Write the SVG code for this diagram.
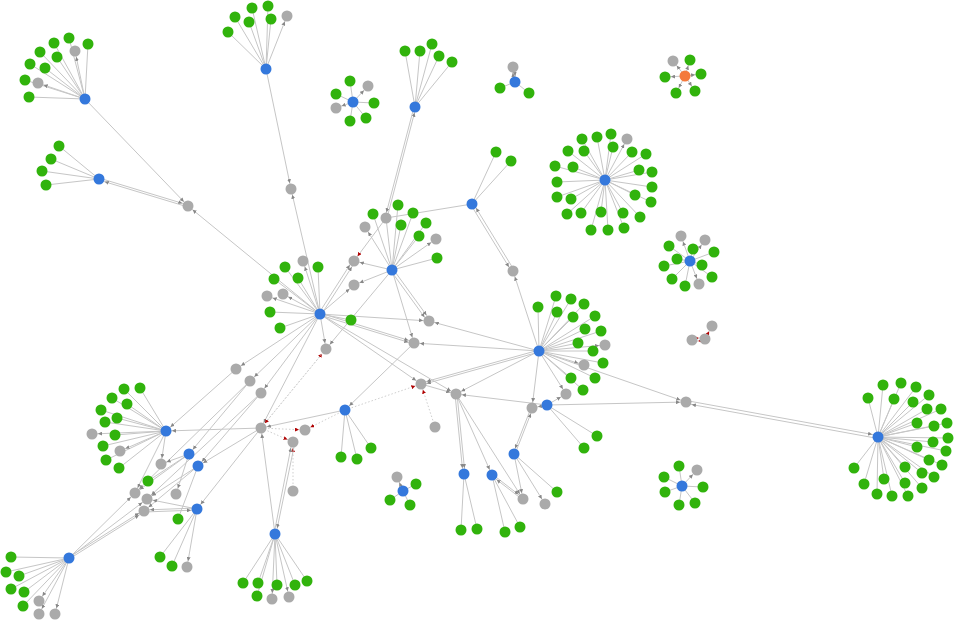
<svg xmlns="http://www.w3.org/2000/svg" width="954" height="621" viewBox="0 0 954 621">
<style>
.e{stroke:#c6c6c6;stroke-width:1;fill:none}
.a{marker-end:url(#ar)}
.d{stroke:#cfcfcf;stroke-width:1;stroke-dasharray:1.5 2;fill:none}
.r{marker-end:url(#rr)}
.g{fill:#31b30c}
.b{fill:#3478dc}
.y{fill:#aaaaaa}
.o{fill:#f4793b}
</style>
<defs>
<marker id="ar" viewBox="0 0 10 10" refX="25" refY="5" markerWidth="4" markerHeight="4" orient="auto" markerUnits="userSpaceOnUse"><path d="M0,0L10,5L0,10z" fill="#888"/></marker>
<marker id="rr" viewBox="0 0 10 10" refX="25" refY="5" markerWidth="4" markerHeight="4" orient="auto" markerUnits="userSpaceOnUse"><path d="M0,0L10,5L0,10z" fill="#b00000"/></marker>
</defs>
<rect width="954" height="621" fill="#fff"/>
<g id="connectors">
<!-- cluster A -->
<path class="e" d="M85 99L69 38M85 99L88 44M85 99L54 43M85 99L40 52M85 99L57 57M85 99L30 64M85 99L45 68M85 99L25 80M85 99L29 97"/>
<line class="e a" x1="85" y1="99" x2="75" y2="51"/>
<line class="e a" x1="85" y1="99" x2="38" y2="83"/>
<line class="e a" x1="85" y1="99" x2="188" y2="206"/>
<path class="e" d="M99 179L59 146M99 179L51 159M99 179L42 171M99 179L46 185"/>
<line class="e a" x1="99" y1="178" x2="188" y2="205"/>
<line class="e a" x1="188" y1="207" x2="99" y2="180"/>
<line class="e a" x1="320" y1="314" x2="188" y2="206"/>
<!-- cluster B -->
<path class="e" d="M266 69L235 17M266 69L252 8M266 69L268 6M266 69L249 22M266 69L271 19M266 69L228 32"/>
<line class="e a" x1="266" y1="69" x2="287" y2="16"/>
<line class="e a" x1="266" y1="69" x2="291" y2="189"/>
<line class="e a" x1="320" y1="314" x2="291" y2="189"/>
<!-- cluster C -->
<path class="e" d="M353 102L350 81M353 102L336 94M353 102L374 103M353 102L350 121M353 102L366 118"/>
<line class="e a" x1="353" y1="102" x2="368" y2="86"/>
<line class="e a" x1="353" y1="102" x2="336" y2="108"/>
<!-- cluster D -->
<path class="e" d="M415 107L405 51M415 107L420 51M415 107L432 44M415 107L439 56M415 107L452 62"/>
<line class="e a" x1="414" y1="107" x2="385" y2="218"/>
<line class="e a" x1="387" y1="218" x2="416" y2="107"/>
<!-- cluster E -->
<path class="e" d="M515 82L500 88M515 82L529 93"/>
<line class="e a" x1="514" y1="82" x2="512" y2="67"/>
<line class="e a" x1="514" y1="67" x2="516" y2="82"/>
<!-- cluster F -->
<line class="e a" x1="685" y1="76" x2="673" y2="61"/>
<line class="e a" x1="685" y1="76" x2="690" y2="60"/>
<line class="e a" x1="685" y1="76" x2="701" y2="74"/>
<line class="e a" x1="685" y1="76" x2="665" y2="77"/>
<line class="e a" x1="685" y1="76" x2="676" y2="93"/>
<line class="e a" x1="685" y1="76" x2="695" y2="91"/>
<!-- K -->
<path class="e" d="M472 204L496 152M472 204L511 161M472 204L386 218"/>
<line class="e a" x1="471" y1="205" x2="512" y2="272"/>
<line class="e a" x1="514" y1="270" x2="473" y2="203"/>
<line class="e a" x1="539" y1="351" x2="513" y2="271"/>
<!-- G -->
<path class="e" d="M605 180L582 139M605 180L597 137M605 180L611 134M605 180L568 151M605 180L584 151M605 180L613 147M605 180L632 152M605 180L646 154M605 180L555 166M605 180L573 167M605 180L639 170M605 180L652 172M605 180L557 182M605 180L652 187M605 180L557 197M605 180L571 199M605 180L635 195M605 180L651 202M605 180L567 214M605 180L581 213M605 180L601 212M605 180L623 213M605 180L640 217M605 180L591 230M605 180L608 230M605 180L624 228"/>
<line class="e a" x1="605" y1="180" x2="627" y2="139"/>
<!-- H -->
<path class="e" d="M690 261L669 246M690 261L677 259M690 261L664 266M690 261L693 249M690 261L714 252M690 261L702 265M690 261L712 277M690 261L672 279M690 261L685 286"/>
<line class="e a" x1="690" y1="261" x2="681" y2="236"/>
<line class="e a" x1="690" y1="261" x2="705" y2="240"/>
<line class="e a" x1="690" y1="261" x2="699" y2="284"/>
<!-- T -->
<line class="d r" x1="692" y1="338.5" x2="705" y2="337.5"/>
<line class="d r" x1="705" y1="340.5" x2="692" y2="341.5"/>
<line class="d r" x1="705" y1="339" x2="712" y2="326"/>
<!-- I -->
<path class="e" d="M539 351L538 307M539 351L556 296M539 351L571 299M539 351L584 304M539 351L557 312M539 351L573 317M539 351L595 316M539 351L585 329M539 351L601 331M539 351L578 343M539 351L593 351M539 351L603 363M539 351L571 378M539 351L595 378M539 351L583 390"/>
<line class="e a" x1="539" y1="351" x2="605" y2="345"/>
<line class="e a" x1="539" y1="351" x2="584" y2="365"/>
<line class="e a" x1="539" y1="351" x2="566" y2="394"/>
<!-- J -->
<path class="e" d="M878 437L868 398M878 437L883 385M878 437L901 383M878 437L916 387M878 437L929 395M878 437L894 399M878 437L913 402M878 437L927 409M878 437L941 409M878 437L917 423M878 437L934 426M878 437L947 423M878 437L933 442M878 437L948 438M878 437L917 447M878 437L946 451M878 437L929 460M878 437L942 465M878 437L854 468M878 437L905 467M878 437L922 473M878 437L934 477M878 437L864 484M878 437L884 479M878 437L905 483M878 437L922 488M878 437L877 494M878 437L892 496M878 437L908 496"/>
<line class="e a" x1="686" y1="400.5" x2="878" y2="435.5"/>
<line class="e a" x1="878" y1="438.5" x2="686" y2="403.5"/>
<line class="e a" x1="539" y1="351" x2="686" y2="402"/>
<line class="e a" x1="547" y1="405" x2="686" y2="402"/>
<!-- hub -->
<path class="e" d="M320 314L285 267M320 314L298 278M320 314L318 267M320 314L274 279M320 314L270 312M320 314L280 328M320 314L351 320"/>
<line class="e a" x1="320" y1="314" x2="303" y2="261"/>
<line class="e a" x1="320" y1="314" x2="267" y2="296"/>
<line class="e a" x1="320" y1="314" x2="283" y2="294"/>
<line class="e a" x1="319" y1="313" x2="353" y2="260"/>
<line class="e a" x1="321" y1="315" x2="355" y2="262"/>
<line class="e a" x1="320" y1="314" x2="354" y2="285"/>
<line class="e a" x1="320" y1="314" x2="326" y2="349"/>
<line class="e a" x1="320" y1="314" x2="429" y2="321"/>
<line class="e a" x1="320" y1="313" x2="414" y2="342"/>
<line class="e a" x1="320" y1="315" x2="414" y2="344"/>
<line class="e a" x1="320" y1="314" x2="421" y2="384"/>
<line class="e a" x1="320" y1="314" x2="456" y2="394"/>
<line class="e a" x1="320" y1="314" x2="236" y2="369"/>
<line class="e a" x1="320" y1="314" x2="250" y2="381"/>
<line class="e a" x1="320" y1="314" x2="261" y2="393"/>
<line class="e a" x1="320" y1="314" x2="261" y2="428"/>
<!-- D2 -->
<path class="e" d="M392 270L373 214M392 270L398 205M392 270L413 213M392 270L401 225M392 270L426 223M392 270L419 236M392 270L437 258M392 270L386 218"/>
<line class="e a" x1="392" y1="270" x2="365" y2="227"/>
<line class="e a" x1="392" y1="270" x2="436" y2="239"/>
<line class="e a" x1="392" y1="270" x2="354" y2="261"/>
<line class="e a" x1="392" y1="270" x2="354" y2="285"/>
<line class="e a" x1="392" y1="270" x2="326" y2="349"/>
<line class="e a" x1="391" y1="271" x2="428" y2="322"/>
<line class="e a" x1="393" y1="269" x2="430" y2="320"/>
<line class="e a" x1="392" y1="270" x2="414" y2="343"/>
<line class="e r" x1="386" y1="218" x2="354" y2="261"/>
<!-- middle -->
<line class="e a" x1="539" y1="351" x2="429" y2="321"/>
<line class="e a" x1="539" y1="351" x2="414" y2="343"/>
<line class="e a" x1="539" y1="350" x2="421" y2="383"/>
<line class="e a" x1="539" y1="352" x2="421" y2="385"/>
<line class="e a" x1="539" y1="351" x2="456" y2="394"/>
<line class="e a" x1="414" y1="343" x2="345" y2="410"/>
<line class="e a" x1="421" y1="384" x2="456" y2="394"/>
<line class="d r" x1="345" y1="410" x2="421" y2="384"/>
<line class="d r" x1="435" y1="427" x2="421" y2="384"/>
<!-- blue 345,410 -->
<path class="e" d="M345 410L341 457M345 410L357 459M345 410L371 448"/>
<line class="e a" x1="345" y1="410" x2="261" y2="428"/>
<line class="d r" x1="345" y1="410" x2="305" y2="430"/>
<line class="d r" x1="261" y1="428" x2="305" y2="430"/>
<line class="d r" x1="261" y1="428" x2="293" y2="442"/>
<line class="d r" x1="293" y1="491" x2="293" y2="442"/>
<line class="d r" x1="261" y1="428" x2="326" y2="349"/>
<line class="d r" x1="326" y1="349" x2="261" y2="428"/>
<!-- blue 275,534 -->
<path class="e" d="M275 534L243 583M275 534L258 583M275 534L277 585M275 534L295 585M275 534L307 581M275 534L257 596"/>
<line class="e a" x1="275" y1="534" x2="272" y2="599"/>
<line class="e a" x1="275" y1="534" x2="289" y2="597"/>
<line class="e a" x1="275" y1="534" x2="261" y2="428"/>
<line class="e a" x1="274" y1="534" x2="292" y2="442"/>
<line class="e a" x1="295" y1="442" x2="276" y2="534"/>
<!-- L -->
<path class="e" d="M403 491L416 484M403 491L390 500M403 491L410 505"/>
<line class="e a" x1="403" y1="491" x2="397" y2="477"/>
<!-- lower middle -->
<path class="e" d="M464 474L461 530M464 474L477 529M514 454L557 492M492 475L505 532M492 475L520 527M547 405L597 436M547 405L584 448"/>
<line class="e a" x1="455" y1="394" x2="463" y2="474"/>
<line class="e a" x1="457" y1="394" x2="465" y2="474"/>
<line class="e a" x1="456" y1="394" x2="492" y2="475"/>
<line class="e a" x1="456" y1="394" x2="523" y2="499"/>
<line class="e a" x1="547" y1="405" x2="456" y2="394"/>
<line class="e a" x1="547" y1="405" x2="566" y2="394"/>
<line class="e a" x1="547" y1="405" x2="532" y2="408"/>
<line class="e a" x1="539" y1="351" x2="532" y2="408"/>
<line class="e a" x1="531" y1="408" x2="513" y2="454"/>
<line class="e a" x1="515" y1="454" x2="533" y2="408"/>
<line class="e a" x1="514" y1="454" x2="523" y2="499"/>
<line class="e a" x1="514" y1="454" x2="545" y2="504"/>
<line class="e a" x1="492" y1="474" x2="523" y2="498"/>
<line class="e a" x1="523" y1="500" x2="492" y2="476"/>
<!-- K small -->
<path class="e" d="M682 486L679 466M682 486L664 477M682 486L665 492M682 486L679 505M682 486L695 503M682 486L703 487"/>
<line class="e a" x1="682" y1="486" x2="697" y2="470"/>
<!-- lower left -->
<path class="e" d="M166 431L124 389M166 431L140 388M166 431L112 398M166 431L127 404M166 431L101 410M166 431L117 418M166 431L105 422M166 431L115 435M166 431L103 446M166 431L106 460M166 431L119 468"/>
<line class="e a" x1="166" y1="431" x2="92" y2="434"/>
<line class="e a" x1="166" y1="431" x2="120" y2="451"/>
<line class="e a" x1="166" y1="431" x2="161" y2="464"/>
<line class="e a" x1="236" y1="369" x2="166" y2="431"/>
<line class="e a" x1="261" y1="428" x2="166" y2="431"/>
<line class="e a" x1="166" y1="431" x2="135" y2="493"/>
<line class="e a" x1="250" y1="381" x2="189" y2="454"/>
<line class="e a" x1="250" y1="381" x2="135" y2="493"/>
<line class="e a" x1="261" y1="393" x2="198" y2="466"/>
<line class="e a" x1="261" y1="393" x2="147" y2="499"/>
<line class="e a" x1="261" y1="428" x2="197" y2="509"/>
<line class="e a" x1="261" y1="428" x2="198" y2="466"/>
<line class="e a" x1="69" y1="558" x2="135" y2="493"/>
<line class="e a" x1="69" y1="558" x2="147" y2="499"/>
<line class="e a" x1="69" y1="557" x2="144" y2="510"/>
<line class="e a" x1="69" y1="559" x2="144" y2="512"/>
<line class="e a" x1="189" y1="454" x2="161" y2="464"/>
<line class="e" x1="189" y1="454" x2="148" y2="481"/>
<line class="e a" x1="189" y1="454" x2="176" y2="494"/>
<line class="e a" x1="189" y1="454" x2="135" y2="493"/>
<line class="e a" x1="198" y1="466" x2="147" y2="499"/>
<line class="e" x1="198" y1="466" x2="178" y2="519"/>
<line class="e a" x1="198" y1="466" x2="144" y2="511"/>
<line class="e a" x1="197" y1="509" x2="147" y2="499"/>
<line class="e a" x1="197" y1="508" x2="144" y2="510"/>
<line class="e a" x1="144" y1="512" x2="197" y2="510"/>
<path class="e" d="M197 509L160 557M197 509L172 566"/>
<line class="e a" x1="197" y1="509" x2="187" y2="567"/>
<path class="e" d="M69 558L11 557M69 558L6 572M69 558L19 576M69 558L11 589M69 558L24 592M69 558L23 606"/>
<line class="e a" x1="69" y1="558" x2="39" y2="601"/>
<line class="e a" x1="69" y1="558" x2="39" y2="614"/>
<line class="e a" x1="69" y1="558" x2="55" y2="614"/>
</g>
<g id="n-a0"><circle class="b" cx="85" cy="99" r="5.5"/></g>
<g id="n-a1"><circle class="g" cx="69" cy="38" r="5.5"/></g>
<g id="n-a2"><circle class="g" cx="88" cy="44" r="5.5"/></g>
<g id="n-a3"><circle class="g" cx="54" cy="43" r="5.5"/></g>
<g id="n-a4"><circle class="g" cx="40" cy="52" r="5.5"/></g>
<g id="n-a5"><circle class="g" cx="57" cy="57" r="5.5"/></g>
<g id="n-a6"><circle class="g" cx="30" cy="64" r="5.5"/></g>
<g id="n-a7"><circle class="g" cx="45" cy="68" r="5.5"/></g>
<g id="n-a8"><circle class="g" cx="25" cy="80" r="5.5"/></g>
<g id="n-a9"><circle class="g" cx="29" cy="97" r="5.5"/></g>
<g id="n-a10"><circle class="y" cx="75" cy="51" r="5.5"/></g>
<g id="n-a11"><circle class="y" cx="38" cy="83" r="5.5"/></g>
<g id="n-a12"><circle class="b" cx="99" cy="179" r="5.5"/></g>
<g id="n-a13"><circle class="g" cx="59" cy="146" r="5.5"/></g>
<g id="n-a14"><circle class="g" cx="51" cy="159" r="5.5"/></g>
<g id="n-a15"><circle class="g" cx="42" cy="171" r="5.5"/></g>
<g id="n-a16"><circle class="g" cx="46" cy="185" r="5.5"/></g>
<g id="n-a17"><circle class="y" cx="188" cy="206" r="5.5"/></g>
<g id="n-b0"><circle class="b" cx="266" cy="69" r="5.5"/></g>
<g id="n-b1"><circle class="g" cx="235" cy="17" r="5.5"/></g>
<g id="n-b2"><circle class="g" cx="252" cy="8" r="5.5"/></g>
<g id="n-b3"><circle class="g" cx="268" cy="6" r="5.5"/></g>
<g id="n-b4"><circle class="g" cx="249" cy="22" r="5.5"/></g>
<g id="n-b5"><circle class="g" cx="271" cy="19" r="5.5"/></g>
<g id="n-b6"><circle class="g" cx="228" cy="32" r="5.5"/></g>
<g id="n-b7"><circle class="y" cx="287" cy="16" r="5.5"/></g>
<g id="n-b8"><circle class="y" cx="291" cy="189" r="5.5"/></g>
<g id="n-c0"><circle class="b" cx="353" cy="102" r="5.5"/></g>
<g id="n-c1"><circle class="g" cx="350" cy="81" r="5.5"/></g>
<g id="n-c2"><circle class="g" cx="336" cy="94" r="5.5"/></g>
<g id="n-c3"><circle class="g" cx="374" cy="103" r="5.5"/></g>
<g id="n-c4"><circle class="g" cx="350" cy="121" r="5.5"/></g>
<g id="n-c5"><circle class="g" cx="366" cy="118" r="5.5"/></g>
<g id="n-c6"><circle class="y" cx="368" cy="86" r="5.5"/></g>
<g id="n-c7"><circle class="y" cx="336" cy="108" r="5.5"/></g>
<g id="n-d0"><circle class="b" cx="415" cy="107" r="5.5"/></g>
<g id="n-d1"><circle class="g" cx="405" cy="51" r="5.5"/></g>
<g id="n-d2"><circle class="g" cx="420" cy="51" r="5.5"/></g>
<g id="n-d3"><circle class="g" cx="432" cy="44" r="5.5"/></g>
<g id="n-d4"><circle class="g" cx="439" cy="56" r="5.5"/></g>
<g id="n-d5"><circle class="g" cx="452" cy="62" r="5.5"/></g>
<g id="n-e0"><circle class="b" cx="515" cy="82" r="5.5"/></g>
<g id="n-e1"><circle class="y" cx="513" cy="67" r="5.5"/></g>
<g id="n-e2"><circle class="g" cx="500" cy="88" r="5.5"/></g>
<g id="n-e3"><circle class="g" cx="529" cy="93" r="5.5"/></g>
<g id="n-f0"><circle class="o" cx="685" cy="76" r="5.5"/></g>
<g id="n-f1"><circle class="y" cx="673" cy="61" r="5.5"/></g>
<g id="n-f2"><circle class="g" cx="690" cy="60" r="5.5"/></g>
<g id="n-f3"><circle class="g" cx="701" cy="74" r="5.5"/></g>
<g id="n-f4"><circle class="g" cx="665" cy="77" r="5.5"/></g>
<g id="n-f5"><circle class="g" cx="676" cy="93" r="5.5"/></g>
<g id="n-f6"><circle class="g" cx="695" cy="91" r="5.5"/></g>
<g id="n-k0"><circle class="b" cx="472" cy="204" r="5.5"/></g>
<g id="n-k1"><circle class="g" cx="496" cy="152" r="5.5"/></g>
<g id="n-k2"><circle class="g" cx="511" cy="161" r="5.5"/></g>
<g id="n-k3"><circle class="y" cx="513" cy="271" r="5.5"/></g>
<g id="n-g0"><circle class="b" cx="605" cy="180" r="5.5"/></g>
<g id="n-g1"><circle class="g" cx="582" cy="139" r="5.5"/></g>
<g id="n-g2"><circle class="g" cx="597" cy="137" r="5.5"/></g>
<g id="n-g3"><circle class="g" cx="611" cy="134" r="5.5"/></g>
<g id="n-g4"><circle class="y" cx="627" cy="139" r="5.5"/></g>
<g id="n-g5"><circle class="g" cx="568" cy="151" r="5.5"/></g>
<g id="n-g6"><circle class="g" cx="584" cy="151" r="5.5"/></g>
<g id="n-g7"><circle class="g" cx="613" cy="147" r="5.5"/></g>
<g id="n-g8"><circle class="g" cx="632" cy="152" r="5.5"/></g>
<g id="n-g9"><circle class="g" cx="646" cy="154" r="5.5"/></g>
<g id="n-g10"><circle class="g" cx="555" cy="166" r="5.5"/></g>
<g id="n-g11"><circle class="g" cx="573" cy="167" r="5.5"/></g>
<g id="n-g12"><circle class="g" cx="639" cy="170" r="5.5"/></g>
<g id="n-g13"><circle class="g" cx="652" cy="172" r="5.5"/></g>
<g id="n-g14"><circle class="g" cx="557" cy="182" r="5.5"/></g>
<g id="n-g15"><circle class="g" cx="652" cy="187" r="5.5"/></g>
<g id="n-g16"><circle class="g" cx="557" cy="197" r="5.5"/></g>
<g id="n-g17"><circle class="g" cx="571" cy="199" r="5.5"/></g>
<g id="n-g18"><circle class="g" cx="635" cy="195" r="5.5"/></g>
<g id="n-g19"><circle class="g" cx="651" cy="202" r="5.5"/></g>
<g id="n-g20"><circle class="g" cx="567" cy="214" r="5.5"/></g>
<g id="n-g21"><circle class="g" cx="581" cy="213" r="5.5"/></g>
<g id="n-g22"><circle class="g" cx="601" cy="212" r="5.5"/></g>
<g id="n-g23"><circle class="g" cx="623" cy="213" r="5.5"/></g>
<g id="n-g24"><circle class="g" cx="640" cy="217" r="5.5"/></g>
<g id="n-g25"><circle class="g" cx="591" cy="230" r="5.5"/></g>
<g id="n-g26"><circle class="g" cx="608" cy="230" r="5.5"/></g>
<g id="n-g27"><circle class="g" cx="624" cy="228" r="5.5"/></g>
<g id="n-h0"><circle class="b" cx="690" cy="261" r="5.5"/></g>
<g id="n-h1"><circle class="g" cx="669" cy="246" r="5.5"/></g>
<g id="n-h2"><circle class="g" cx="677" cy="259" r="5.5"/></g>
<g id="n-h3"><circle class="g" cx="664" cy="266" r="5.5"/></g>
<g id="n-h4"><circle class="g" cx="693" cy="249" r="5.5"/></g>
<g id="n-h5"><circle class="g" cx="714" cy="252" r="5.5"/></g>
<g id="n-h6"><circle class="g" cx="702" cy="265" r="5.5"/></g>
<g id="n-h7"><circle class="g" cx="712" cy="277" r="5.5"/></g>
<g id="n-h8"><circle class="g" cx="672" cy="279" r="5.5"/></g>
<g id="n-h9"><circle class="g" cx="685" cy="286" r="5.5"/></g>
<g id="n-h10"><circle class="y" cx="681" cy="236" r="5.5"/></g>
<g id="n-h11"><circle class="y" cx="705" cy="240" r="5.5"/></g>
<g id="n-h12"><circle class="y" cx="699" cy="284" r="5.5"/></g>
<g id="n-t1"><circle class="y" cx="712" cy="326" r="5.5"/></g>
<g id="n-t2"><circle class="y" cx="692" cy="340" r="5.5"/></g>
<g id="n-t3"><circle class="y" cx="705" cy="339" r="5.5"/></g>
<g id="n-i0"><circle class="b" cx="539" cy="351" r="5.5"/></g>
<g id="n-i1"><circle class="g" cx="538" cy="307" r="5.5"/></g>
<g id="n-i2"><circle class="g" cx="556" cy="296" r="5.5"/></g>
<g id="n-i3"><circle class="g" cx="571" cy="299" r="5.5"/></g>
<g id="n-i4"><circle class="g" cx="584" cy="304" r="5.5"/></g>
<g id="n-i5"><circle class="g" cx="557" cy="312" r="5.5"/></g>
<g id="n-i6"><circle class="g" cx="573" cy="317" r="5.5"/></g>
<g id="n-i7"><circle class="g" cx="595" cy="316" r="5.5"/></g>
<g id="n-i8"><circle class="g" cx="585" cy="329" r="5.5"/></g>
<g id="n-i9"><circle class="g" cx="601" cy="331" r="5.5"/></g>
<g id="n-i10"><circle class="g" cx="578" cy="343" r="5.5"/></g>
<g id="n-i11"><circle class="g" cx="593" cy="351" r="5.5"/></g>
<g id="n-i12"><circle class="g" cx="603" cy="363" r="5.5"/></g>
<g id="n-i13"><circle class="g" cx="571" cy="378" r="5.5"/></g>
<g id="n-i14"><circle class="g" cx="595" cy="378" r="5.5"/></g>
<g id="n-i15"><circle class="g" cx="583" cy="390" r="5.5"/></g>
<g id="n-i16"><circle class="y" cx="605" cy="345" r="5.5"/></g>
<g id="n-i17"><circle class="y" cx="584" cy="365" r="5.5"/></g>
<g id="n-i18"><circle class="y" cx="566" cy="394" r="5.5"/></g>
<g id="n-j0"><circle class="b" cx="878" cy="437" r="5.5"/></g>
<g id="n-j1"><circle class="g" cx="868" cy="398" r="5.5"/></g>
<g id="n-j2"><circle class="g" cx="883" cy="385" r="5.5"/></g>
<g id="n-j3"><circle class="g" cx="901" cy="383" r="5.5"/></g>
<g id="n-j4"><circle class="g" cx="916" cy="387" r="5.5"/></g>
<g id="n-j5"><circle class="g" cx="929" cy="395" r="5.5"/></g>
<g id="n-j6"><circle class="g" cx="894" cy="399" r="5.5"/></g>
<g id="n-j7"><circle class="g" cx="913" cy="402" r="5.5"/></g>
<g id="n-j8"><circle class="g" cx="927" cy="409" r="5.5"/></g>
<g id="n-j9"><circle class="g" cx="941" cy="409" r="5.5"/></g>
<g id="n-j10"><circle class="g" cx="917" cy="423" r="5.5"/></g>
<g id="n-j11"><circle class="g" cx="934" cy="426" r="5.5"/></g>
<g id="n-j12"><circle class="g" cx="947" cy="423" r="5.5"/></g>
<g id="n-j13"><circle class="g" cx="933" cy="442" r="5.5"/></g>
<g id="n-j14"><circle class="g" cx="948" cy="438" r="5.5"/></g>
<g id="n-j15"><circle class="g" cx="917" cy="447" r="5.5"/></g>
<g id="n-j16"><circle class="g" cx="946" cy="451" r="5.5"/></g>
<g id="n-j17"><circle class="g" cx="929" cy="460" r="5.5"/></g>
<g id="n-j18"><circle class="g" cx="942" cy="465" r="5.5"/></g>
<g id="n-j19"><circle class="g" cx="854" cy="468" r="5.5"/></g>
<g id="n-j20"><circle class="g" cx="905" cy="467" r="5.5"/></g>
<g id="n-j21"><circle class="g" cx="922" cy="473" r="5.5"/></g>
<g id="n-j22"><circle class="g" cx="934" cy="477" r="5.5"/></g>
<g id="n-j23"><circle class="g" cx="864" cy="484" r="5.5"/></g>
<g id="n-j24"><circle class="g" cx="884" cy="479" r="5.5"/></g>
<g id="n-j25"><circle class="g" cx="905" cy="483" r="5.5"/></g>
<g id="n-j26"><circle class="g" cx="922" cy="488" r="5.5"/></g>
<g id="n-j27"><circle class="g" cx="877" cy="494" r="5.5"/></g>
<g id="n-j28"><circle class="g" cx="892" cy="496" r="5.5"/></g>
<g id="n-j29"><circle class="g" cx="908" cy="496" r="5.5"/></g>
<g id="n-j30"><circle class="y" cx="686" cy="402" r="5.5"/></g>
<g id="n-hub"><circle class="b" cx="320" cy="314" r="5.5"/></g>
<g id="n-m1"><circle class="g" cx="285" cy="267" r="5.5"/></g>
<g id="n-m2"><circle class="g" cx="298" cy="278" r="5.5"/></g>
<g id="n-m3"><circle class="g" cx="318" cy="267" r="5.5"/></g>
<g id="n-m4"><circle class="g" cx="274" cy="279" r="5.5"/></g>
<g id="n-m5"><circle class="g" cx="270" cy="312" r="5.5"/></g>
<g id="n-m6"><circle class="g" cx="280" cy="328" r="5.5"/></g>
<g id="n-m7"><circle class="g" cx="351" cy="320" r="5.5"/></g>
<g id="n-m8"><circle class="y" cx="303" cy="261" r="5.5"/></g>
<g id="n-m9"><circle class="y" cx="267" cy="296" r="5.5"/></g>
<g id="n-m10"><circle class="y" cx="283" cy="294" r="5.5"/></g>
<g id="n-m11"><circle class="y" cx="326" cy="349" r="5.5"/></g>
<g id="n-m12"><circle class="y" cx="354" cy="261" r="5.5"/></g>
<g id="n-m13"><circle class="y" cx="354" cy="285" r="5.5"/></g>
<g id="n-p0"><circle class="b" cx="392" cy="270" r="5.5"/></g>
<g id="n-p1"><circle class="g" cx="373" cy="214" r="5.5"/></g>
<g id="n-p2"><circle class="g" cx="398" cy="205" r="5.5"/></g>
<g id="n-p3"><circle class="g" cx="413" cy="213" r="5.5"/></g>
<g id="n-p4"><circle class="g" cx="401" cy="225" r="5.5"/></g>
<g id="n-p5"><circle class="g" cx="426" cy="223" r="5.5"/></g>
<g id="n-p6"><circle class="g" cx="419" cy="236" r="5.5"/></g>
<g id="n-p7"><circle class="g" cx="437" cy="258" r="5.5"/></g>
<g id="n-p8"><circle class="y" cx="386" cy="218" r="5.5"/></g>
<g id="n-p9"><circle class="y" cx="365" cy="227" r="5.5"/></g>
<g id="n-p10"><circle class="y" cx="436" cy="239" r="5.5"/></g>
<g id="n-q1"><circle class="y" cx="429" cy="321" r="5.5"/></g>
<g id="n-q2"><circle class="y" cx="414" cy="343" r="5.5"/></g>
<g id="n-q3"><circle class="y" cx="421" cy="384" r="5.5"/></g>
<g id="n-q4"><circle class="y" cx="456" cy="394" r="5.5"/></g>
<g id="n-q5"><circle class="y" cx="435" cy="427" r="5.5"/></g>
<g id="n-s0"><circle class="b" cx="345" cy="410" r="5.5"/></g>
<g id="n-s1"><circle class="g" cx="341" cy="457" r="5.5"/></g>
<g id="n-s2"><circle class="g" cx="357" cy="459" r="5.5"/></g>
<g id="n-s3"><circle class="g" cx="371" cy="448" r="5.5"/></g>
<g id="n-s4"><circle class="y" cx="305" cy="430" r="5.5"/></g>
<g id="n-s5"><circle class="y" cx="293" cy="442" r="5.5"/></g>
<g id="n-s6"><circle class="y" cx="261" cy="428" r="5.5"/></g>
<g id="n-s7"><circle class="y" cx="293" cy="491" r="5.5"/></g>
<g id="n-u0"><circle class="b" cx="275" cy="534" r="5.5"/></g>
<g id="n-u1"><circle class="g" cx="243" cy="583" r="5.5"/></g>
<g id="n-u2"><circle class="g" cx="258" cy="583" r="5.5"/></g>
<g id="n-u3"><circle class="g" cx="277" cy="585" r="5.5"/></g>
<g id="n-u4"><circle class="g" cx="295" cy="585" r="5.5"/></g>
<g id="n-u5"><circle class="g" cx="307" cy="581" r="5.5"/></g>
<g id="n-u6"><circle class="g" cx="257" cy="596" r="5.5"/></g>
<g id="n-u7"><circle class="y" cx="272" cy="599" r="5.5"/></g>
<g id="n-u8"><circle class="y" cx="289" cy="597" r="5.5"/></g>
<g id="n-l0"><circle class="b" cx="403" cy="491" r="5.5"/></g>
<g id="n-l1"><circle class="y" cx="397" cy="477" r="5.5"/></g>
<g id="n-l2"><circle class="g" cx="416" cy="484" r="5.5"/></g>
<g id="n-l3"><circle class="g" cx="390" cy="500" r="5.5"/></g>
<g id="n-l4"><circle class="g" cx="410" cy="505" r="5.5"/></g>
<g id="n-v0"><circle class="b" cx="464" cy="474" r="5.5"/></g>
<g id="n-v1"><circle class="g" cx="461" cy="530" r="5.5"/></g>
<g id="n-v2"><circle class="g" cx="477" cy="529" r="5.5"/></g>
<g id="n-w0"><circle class="b" cx="514" cy="454" r="5.5"/></g>
<g id="n-w1"><circle class="b" cx="492" cy="475" r="5.5"/></g>
<g id="n-w2"><circle class="y" cx="523" cy="499" r="5.5"/></g>
<g id="n-w3"><circle class="y" cx="545" cy="504" r="5.5"/></g>
<g id="n-w4"><circle class="g" cx="557" cy="492" r="5.5"/></g>
<g id="n-w5"><circle class="g" cx="505" cy="532" r="5.5"/></g>
<g id="n-w6"><circle class="g" cx="520" cy="527" r="5.5"/></g>
<g id="n-x0"><circle class="b" cx="547" cy="405" r="5.5"/></g>
<g id="n-x1"><circle class="y" cx="532" cy="408" r="5.5"/></g>
<g id="n-x2"><circle class="g" cx="597" cy="436" r="5.5"/></g>
<g id="n-x3"><circle class="g" cx="584" cy="448" r="5.5"/></g>
<g id="n-z0"><circle class="b" cx="682" cy="486" r="5.5"/></g>
<g id="n-z1"><circle class="g" cx="679" cy="466" r="5.5"/></g>
<g id="n-z2"><circle class="g" cx="664" cy="477" r="5.5"/></g>
<g id="n-z3"><circle class="g" cx="665" cy="492" r="5.5"/></g>
<g id="n-z4"><circle class="g" cx="679" cy="505" r="5.5"/></g>
<g id="n-z5"><circle class="g" cx="695" cy="503" r="5.5"/></g>
<g id="n-z6"><circle class="g" cx="703" cy="487" r="5.5"/></g>
<g id="n-z7"><circle class="y" cx="697" cy="470" r="5.5"/></g>
<g id="n-o0"><circle class="b" cx="166" cy="431" r="5.5"/></g>
<g id="n-o1"><circle class="g" cx="124" cy="389" r="5.5"/></g>
<g id="n-o2"><circle class="g" cx="140" cy="388" r="5.5"/></g>
<g id="n-o3"><circle class="g" cx="112" cy="398" r="5.5"/></g>
<g id="n-o4"><circle class="g" cx="127" cy="404" r="5.5"/></g>
<g id="n-o5"><circle class="g" cx="101" cy="410" r="5.5"/></g>
<g id="n-o6"><circle class="g" cx="117" cy="418" r="5.5"/></g>
<g id="n-o7"><circle class="g" cx="105" cy="422" r="5.5"/></g>
<g id="n-o8"><circle class="g" cx="115" cy="435" r="5.5"/></g>
<g id="n-o9"><circle class="g" cx="103" cy="446" r="5.5"/></g>
<g id="n-o10"><circle class="g" cx="106" cy="460" r="5.5"/></g>
<g id="n-o11"><circle class="g" cx="119" cy="468" r="5.5"/></g>
<g id="n-o12"><circle class="y" cx="92" cy="434" r="5.5"/></g>
<g id="n-o13"><circle class="y" cx="120" cy="451" r="5.5"/></g>
<g id="n-r1"><circle class="y" cx="236" cy="369" r="5.5"/></g>
<g id="n-r2"><circle class="y" cx="250" cy="381" r="5.5"/></g>
<g id="n-r3"><circle class="y" cx="261" cy="393" r="5.5"/></g>
<g id="n-r4"><circle class="b" cx="189" cy="454" r="5.5"/></g>
<g id="n-r5"><circle class="b" cx="198" cy="466" r="5.5"/></g>
<g id="n-r6"><circle class="b" cx="197" cy="509" r="5.5"/></g>
<g id="n-r7"><circle class="y" cx="161" cy="464" r="5.5"/></g>
<g id="n-r8"><circle class="g" cx="148" cy="481" r="5.5"/></g>
<g id="n-r9"><circle class="y" cx="135" cy="493" r="5.5"/></g>
<g id="n-r10"><circle class="y" cx="147" cy="499" r="5.5"/></g>
<g id="n-r11"><circle class="y" cx="176" cy="494" r="5.5"/></g>
<g id="n-r12"><circle class="y" cx="144" cy="511" r="5.5"/></g>
<g id="n-r13"><circle class="g" cx="178" cy="519" r="5.5"/></g>
<g id="n-r14"><circle class="g" cx="160" cy="557" r="5.5"/></g>
<g id="n-r15"><circle class="g" cx="172" cy="566" r="5.5"/></g>
<g id="n-r16"><circle class="y" cx="187" cy="567" r="5.5"/></g>
<g id="n-k9"><circle class="b" cx="69" cy="558" r="5.5"/></g>
<g id="n-k10"><circle class="g" cx="11" cy="557" r="5.5"/></g>
<g id="n-k11"><circle class="g" cx="6" cy="572" r="5.5"/></g>
<g id="n-k12"><circle class="g" cx="19" cy="576" r="5.5"/></g>
<g id="n-k13"><circle class="g" cx="11" cy="589" r="5.5"/></g>
<g id="n-k14"><circle class="g" cx="24" cy="592" r="5.5"/></g>
<g id="n-k15"><circle class="g" cx="23" cy="606" r="5.5"/></g>
<g id="n-k16"><circle class="y" cx="39" cy="601" r="5.5"/></g>
<g id="n-k17"><circle class="y" cx="39" cy="614" r="5.5"/></g>
<g id="n-k18"><circle class="y" cx="55" cy="614" r="5.5"/></g>
</svg>
